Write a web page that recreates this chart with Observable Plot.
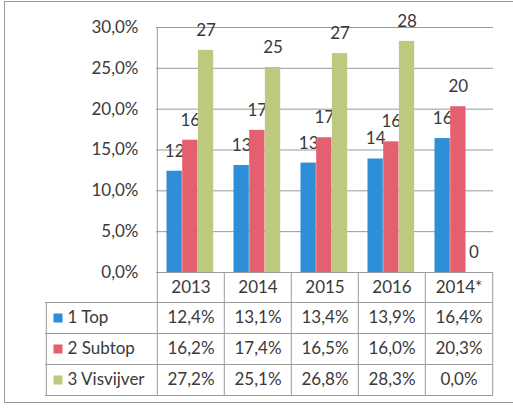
<!DOCTYPE html>
<html>
<head>
<meta charset="utf-8">
<script src="https://cdn.jsdelivr.net/npm/d3@7"></script>
<script src="https://cdn.jsdelivr.net/npm/@observablehq/plot@0.6"></script>
<style>
  body { margin: 0; background: #fff; }
  #chart svg { display: block; }
</style>
</head>
<body>
<div id="chart"></div>
<script>
// ---- data ----
const categories = ["2013", "2014", "2015", "2016", "2014*"];
const seriesNames = ["1 Top", "2 Subtop", "3 Visvijver"];
const topValues = [12.4, 13.1, 13.4, 13.9, 16.4];
const subtopValues = [16.2, 17.4, 16.5, 16.0, 20.3];
const visvijverValues = [27.2, 25.1, 26.8, 28.3, 0.0];
const yTicks = [0, 5, 10, 15, 20, 25, 30];

// ---- styling ----
const seriesColors = ["#2f8ed8", "#e5606e", "#bdc97f"];
const textColor = "#3a3a3a";
const lineColor = "#9a9a9a";
const font = "Lato, 'Open Sans', sans-serif";

const seriesValues = [topValues, subtopValues, visvijverValues];
const rows = seriesNames.map((name, s) =>
  categories.map((c, i) => ({category: c, series: name, value: seriesValues[s][i]}))
);
const fmt = v => v.toFixed(1).replace(".", ",") + "%";

const W = 513, H = 410;
const plotLeft = 156, plotRight = 493, plotTop = 27, plotBottom = 272;
const bw = (plotRight - plotLeft) / categories.length;
const barW = 15.7, groupOffset = 9.5;
const headerH = 30, rowH = 31;
const tableBottom = headerH + rowH * 3;
const labelColLeft = 45;

const marks = [];

// outer frame
marks.push(Plot.frame({
  stroke: lineColor,
  insetLeft: -(plotLeft - 4),
  insetTop: -(plotTop - 1),
  insetBottom: -(402 - plotBottom),
  insetRight: -(W + 10 - plotRight)
}));

// gridlines
marks.push(Plot.gridY(yTicks, {stroke: lineColor, strokeOpacity: 1}));

// bars + labels
rows.forEach((data, s) => {
  const left = groupOffset + s * barW;
  marks.push(Plot.barY(data, {
    x: "category", y: "value", fill: seriesColors[s],
    insetLeft: left, insetRight: bw - left - barW
  }));
  marks.push(Plot.text(data, {
    x: "category", y: "value",
    text: d => String(Math.round(d.value)),
    dx: left + barW / 2 - bw / 2, dy: -20,
    fill: textColor
  }));
});

// table: horizontal lines
for (let k = 0; k < 4; k++) {
  marks.push(Plot.ruleY([0], {
    dy: headerH + rowH * k,
    insetLeft: labelColLeft - plotLeft,
    stroke: lineColor
  }));
}
// table: vertical lines
marks.push(Plot.ruleX(categories, {
  x: d => d, dx: -bw / 2, y1: () => 0, y2: () => 0,
  insetBottom: -tableBottom, stroke: lineColor
}));
marks.push(Plot.ruleX([categories[categories.length - 1]], {
  x: d => d, dx: bw / 2, y1: () => 0, y2: () => 0,
  insetBottom: -tableBottom, stroke: lineColor
}));
marks.push(Plot.ruleX([categories[0]], {
  x: d => d, dx: -bw / 2, y1: () => 0, y2: () => yTicks[yTicks.length - 1],
  stroke: lineColor
}));
marks.push(Plot.ruleX([categories[0]], {
  x: d => d, dx: -bw / 2 - (plotLeft - labelColLeft), y1: () => 0, y2: () => 0,
  insetTop: headerH, insetBottom: -tableBottom, stroke: lineColor
}));

// table: header
marks.push(Plot.text(categories, {
  x: d => d, y: () => 0, dy: headerH / 2, fill: textColor
}));

// table: rows
rows.forEach((data, s) => {
  const dy = headerH + rowH * s + rowH / 2;
  marks.push(Plot.text(data, {
    x: "category", y: () => 0, dy, text: d => fmt(d.value), fill: textColor
  }));
  marks.push(Plot.dot([seriesNames[s]], {
    frameAnchor: "left", y: () => 0, dx: 57.5 - plotLeft, dy,
    symbol: "square", r: 5.1, fill: seriesColors[s], stroke: "none"
  }));
  marks.push(Plot.text([seriesNames[s]], {
    frameAnchor: "left", y: () => 0, dx: 67 - plotLeft, dy,
    text: d => d, textAnchor: "start", fill: textColor
  }));
});

const chart = Plot.plot({
  width: W,
  height: H,
  marginLeft: plotLeft,
  marginRight: W - plotRight,
  marginTop: plotTop,
  marginBottom: H - plotBottom,
  style: {fontFamily: font, fontSize: "17px", color: textColor, background: "#fff"},
  x: {type: "band", domain: categories, paddingInner: 0, paddingOuter: 0, axis: null},
  y: {
    domain: [0, 30], ticks: yTicks, tickFormat: fmt,
    tickSize: 0, tickPadding: 18, label: null
  },
  marks
});
document.getElementById("chart").appendChild(chart);
</script>
</body>
</html>
